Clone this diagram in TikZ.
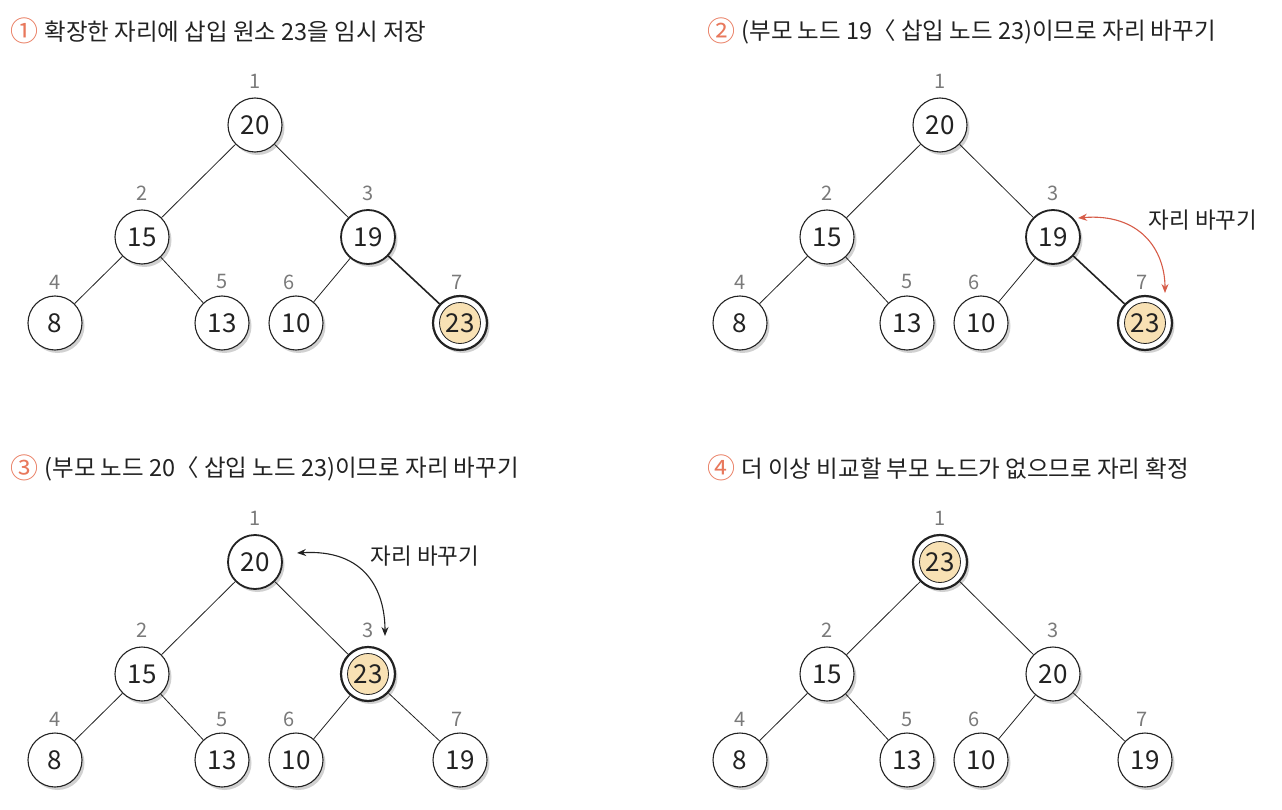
\documentclass[tikz,border=0pt]{standalone}
\usepackage{fontspec}
\setmainfont{Noto Sans CJK KR}
\usetikzlibrary{shadows,calc,arrows.meta}
\definecolor{numorange}{HTML}{E8785C}
\definecolor{swapred}{HTML}{D65C48}
\definecolor{idxgray}{HTML}{7A7A7A}
\definecolor{hlfill}{HTML}{F8E1B4}
\definecolor{ink}{HTML}{222222}
\tikzset{
  x=1pt, y=-1pt,
  softshadow/.style={drop shadow={shadow xshift=2.5pt, shadow yshift=-3pt, fill=black, opacity=0.18}},
  hnode/.style={circle, draw=ink, line width=1.1pt, fill=white, minimum size=54pt, inner sep=0pt,
     font=\fontsize{26}{26}\selectfont, text=ink, softshadow},
  bnode/.style={hnode, line width=1.8pt},
  hlnode/.style={hnode, line width=2.2pt,
     path picture={\draw[ink, line width=0.8pt, fill=hlfill] (path picture bounding box.center) circle (20.5pt);}},
  idx/.style={font=\fontsize{20}{20}\selectfont, text=idxgray, inner sep=0pt},
  edge/.style={draw=ink, line width=0.8pt},
  bedge/.style={draw=ink, line width=1.6pt},
  title/.style={anchor=west, font=\fontsize{23.5}{23.5}\selectfont, text=ink, inner sep=0pt},
  swaplbl/.style={font=\fontsize{22.5}{22.5}\selectfont, text=ink, inner sep=0pt},
}
\newcommand{\cnum}[1]{\raisebox{-1.5pt}{\textcolor{numorange}{\fontsize{28}{28}\selectfont #1}}}
\begin{document}
\begin{tikzpicture}
\useasboundingbox (0,0) rectangle (1282,810);
% ---------- titles
\node[title] (t1) at (10,31) {\cnum{①}\hspace{1pt} 확장한 자리에 삽입 원소 23을 임시 저장};
\node[title] (t2) at (707,31) {\cnum{②}\hspace{1pt} (부모 노드 19〈 삽입 노드 23)이므로 자리 바꾸기};
\node[title] (t3) at (10,468) {\cnum{③}\hspace{1pt} (부모 노드 20〈 삽입 노드 23)이므로 자리 바꾸기};
\node[title] (t4) at (707,468) {\cnum{④}\hspace{1pt} 더 이상 비교할 부모 노드가 없으므로 자리 확정};

% ---------- panel 1
\node[hnode] (a1) at (255,125) {20};
\node[hnode] (a2) at (142,237) {15};
\node[bnode] (a3) at (368,237) {19};
\node[hnode] (a4) at (55,323) {8};
\node[hnode] (a5) at (222,323) {13};
\node[hnode] (a6) at (296,323) {10};
\node[hlnode] (a7) at (460,323) {23};
\draw[edge] (a1) -- (a2); \draw[edge] (a1) -- (a3);
\draw[edge] (a2) -- (a4); \draw[edge] (a2) -- (a5);
\draw[edge] (a3) -- (a6); \draw[bedge] (a3) -- (a7);
\node[idx] (ai1) at (255,81) {1};
\node[idx] (ai2) at (142,193) {2};
\node[idx] (ai3) at (368,193) {3};
\node[idx] (ai4) at (55,282) {4};
\node[idx] (ai5) at (222,282) {5};
\node[idx] (ai6) at (289,282) {6};
\node[idx] (ai7) at (457,282) {7};

% ---------- panel 2
\node[hnode] (b1) at (940,125) {20};
\node[hnode] (b2) at (827,237) {15};
\node[bnode] (b3) at (1053,237) {19};
\node[hnode] (b4) at (740,323) {8};
\node[hnode] (b5) at (907,323) {13};
\node[hnode] (b6) at (981,323) {10};
\node[hlnode] (b7) at (1145,323) {23};
\draw[edge] (b1) -- (b2); \draw[edge] (b1) -- (b3);
\draw[edge] (b2) -- (b4); \draw[edge] (b2) -- (b5);
\draw[edge] (b3) -- (b6); \draw[bedge] (b3) -- (b7);
\node[idx] (bi1) at (940,81) {1};
\node[idx] (bi2) at (827,193) {2};
\node[idx] (bi3) at (1053,193) {3};
\node[idx] (bi4) at (740,282) {4};
\node[idx] (bi5) at (907,282) {5};
\node[idx] (bi6) at (974,282) {6};
\node[idx] (bi7) at (1142,282) {7};
\coordinate (bs) at (1078,218);
\coordinate (be) at (1165,293);
\draw[swapred, line width=1.1pt, {Stealth[length=9pt,width=7pt]}-{Stealth[length=9pt,width=7pt]}]
  (bs) .. controls (1140,213) and (1165,250) .. (be);
\node[swaplbl] (bl) at (1203,220) {자리 바꾸기};

% ---------- panel 3
\node[bnode] (c1) at (255,562) {20};
\node[hnode] (c2) at (142,674) {15};
\node[hlnode] (c3) at (368,674) {23};
\node[hnode] (c4) at (55,760) {8};
\node[hnode] (c5) at (222,760) {13};
\node[hnode] (c6) at (296,760) {10};
\node[hnode] (c7) at (460,760) {19};
\draw[edge] (c1) -- (c2); \draw[edge] (c1) -- (c3);
\draw[edge] (c2) -- (c4); \draw[edge] (c2) -- (c5);
\draw[edge] (c3) -- (c6); \draw[edge] (c3) -- (c7);
\node[idx] (ci1) at (255,518) {1};
\node[idx] (ci2) at (142,630) {2};
\node[idx] (ci3) at (368,630) {3};
\node[idx] (ci4) at (55,719) {4};
\node[idx] (ci5) at (222,719) {5};
\node[idx] (ci6) at (289,719) {6};
\node[idx] (ci7) at (457,719) {7};
\coordinate (cs) at (297,553);
\coordinate (ce) at (385,636);
\draw[ink, line width=1.1pt, {Stealth[length=9pt,width=7pt]}-{Stealth[length=9pt,width=7pt]}]
  (cs) .. controls (365,549) and (385,590) .. (ce);
\node[swaplbl] (cl) at (425,556) {자리 바꾸기};

% ---------- panel 4
\node[hlnode] (d1) at (940,562) {23};
\node[hnode] (d2) at (827,674) {15};
\node[hnode] (d3) at (1053,674) {20};
\node[hnode] (d4) at (740,760) {8};
\node[hnode] (d5) at (907,760) {13};
\node[hnode] (d6) at (981,760) {10};
\node[hnode] (d7) at (1145,760) {19};
\draw[edge] (d1) -- (d2); \draw[edge] (d1) -- (d3);
\draw[edge] (d2) -- (d4); \draw[edge] (d2) -- (d5);
\draw[edge] (d3) -- (d6); \draw[edge] (d3) -- (d7);
\node[idx] (di1) at (940,518) {1};
\node[idx] (di2) at (827,630) {2};
\node[idx] (di3) at (1053,630) {3};
\node[idx] (di4) at (740,719) {4};
\node[idx] (di5) at (907,719) {5};
\node[idx] (di6) at (974,719) {6};
\node[idx] (di7) at (1142,719) {7};
\end{tikzpicture}
\end{document}
